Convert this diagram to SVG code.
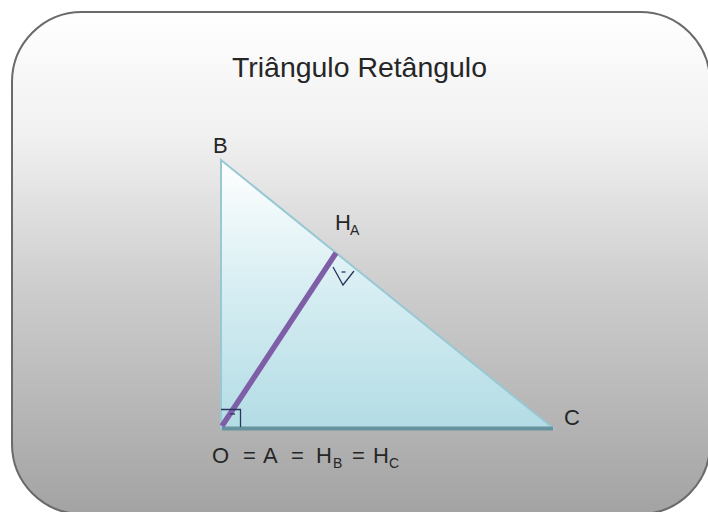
<svg xmlns="http://www.w3.org/2000/svg" width="708" height="512" viewBox="0 0 708 512">
  <defs>
    <linearGradient id="bg" x1="0" y1="0" x2="0" y2="1">
      <stop offset="0" stop-color="#ffffff"/>
      <stop offset="0.25" stop-color="#f0f0f0"/>
      <stop offset="0.55" stop-color="#cdcdcd"/>
      <stop offset="1" stop-color="#a3a3a3"/>
    </linearGradient>
    <linearGradient id="tri" x1="0" y1="160" x2="0" y2="428" gradientUnits="userSpaceOnUse">
      <stop offset="0" stop-color="#ffffff"/>
      <stop offset="0.5" stop-color="#d5edf2"/>
      <stop offset="1" stop-color="#b3dce5"/>
    </linearGradient>
    <style>
      .lbl { font-family: "Liberation Sans", Arial, sans-serif; fill: #262626; }
      .big { font-size: 22px; }
      .sub { font-size: 14px; }
      .mark { fill: none; stroke: #2a3560; stroke-width: 1.3; }
    </style>
  </defs>

  <rect x="0" y="0" width="708" height="512" fill="#ffffff"/>

  <g id="frame">
    <rect x="12" y="12" width="698" height="502" rx="70" ry="70" fill="url(#bg)" stroke="#6a6a6a" stroke-width="2"/>
  </g>

  <g id="title">
    <text class="lbl" x="232" y="77" font-size="28" textLength="255" lengthAdjust="spacingAndGlyphs">Triângulo Retângulo</text>
  </g>

  <g id="triangle">
    <polygon points="221,160 553,428 221,428" fill="url(#tri)" stroke="#98c8d4" stroke-width="2" stroke-linejoin="miter"/>
    <line x1="222" y1="428.5" x2="553" y2="428.5" stroke="#67939e" stroke-width="4"/>
  </g>

  <g id="connectors">
    <line id="altitude" x1="222" y1="426" x2="336" y2="253" stroke="#7e5ea6" stroke-width="5.5" stroke-linecap="butt"/>
  </g>

  <g id="angle-A">
    <polyline class="mark" points="221,409.5 240.5,409.5 240.5,427"/>
    <line class="mark" x1="230" y1="414" x2="235" y2="414"/>
  </g>

  <g id="angle-HA">
    <polyline class="mark" points="333,267 343,285 354,271"/>
    <line class="mark" x1="341.5" y1="272" x2="345.5" y2="272"/>
  </g>

  <g id="label-B">
    <text class="lbl big" x="213" y="153">B</text>
  </g>
  <g id="label-HA">
    <text class="lbl big" x="335" y="230">H<tspan class="sub" x="350" y="235">A</tspan></text>
  </g>
  <g id="label-C">
    <text class="lbl big" x="564" y="425">C</text>
  </g>
  <g id="label-O">
    <text class="lbl big" y="463"><tspan x="212">O</tspan><tspan x="243">=</tspan><tspan x="263">A</tspan><tspan x="291">=</tspan><tspan x="316">H</tspan><tspan class="sub" x="333" y="468">B</tspan><tspan x="352" y="463">=</tspan><tspan x="373">H</tspan><tspan class="sub" x="389" y="468">C</tspan></text>
  </g>
</svg>
